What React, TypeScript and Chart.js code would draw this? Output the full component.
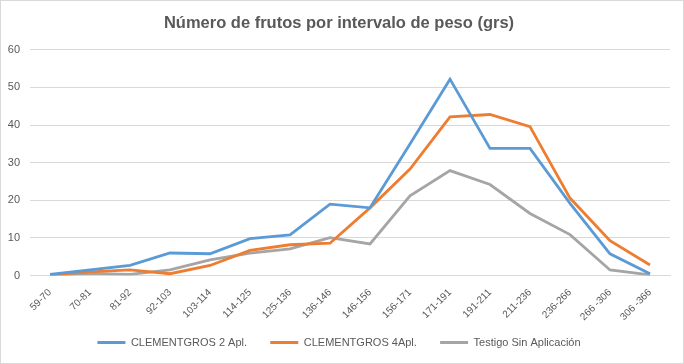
import React, { useEffect, useRef } from "react";
import { Chart, registerables } from "chart.js";

Chart.register(...registerables);

const categories = [
  "59-70", "70-81", "81-92", "92-103", "103-114", "114-125", "125-136", "136-146",
  "146-156", "156-171", "171-191", "191-211", "211-236", "236-266", "266 -306", "306 -366",
];

const clement2 = [0.3, 1.5, 2.7, 6.0, 5.8, 9.8, 10.8, 19.0, 18.0, 35.0, 52.2, 33.8, 33.8, 19.2, 5.8, 0.5];
const clement4 = [0.2, 1.0, 1.5, 0.5, 2.7, 6.7, 8.2, 8.6, 18.0, 28.3, 42.2, 42.8, 39.6, 20.6, 9.3, 2.8];
const testigo = [0.1, 0.6, 0.3, 1.5, 4.2, 6.0, 7.1, 10.1, 8.4, 21.2, 27.9, 24.2, 16.5, 10.9, 1.5, 0.2];

const seriesNames = ["CLEMENTGROS 2 Apl.", "CLEMENTGROS 4Apl.", "Testigo Sin Aplicación"];
const yTicks = [0, 10, 20, 30, 40, 50, 60];

const FONT = "'Liberation Sans', Arial, sans-serif";
const TXT = "#595959";

export default function App() {
  const ref = useRef<HTMLCanvasElement | null>(null);
  useEffect(() => {
    document.body.style.margin = "0";
    if (!ref.current) return;
    const colors = ["#5B9BD5", "#ED7D31", "#A5A5A5"];
    const data = [clement2, clement4, testigo];
    const chart = new Chart(ref.current, {
      type: "line",
      data: {
        labels: categories,
        datasets: data.map((d, i) => ({
          label: seriesNames[i],
          data: d,
          borderColor: colors[i],
          backgroundColor: colors[i],
          borderWidth: 2.8,
          pointRadius: 0,
          tension: 0,
          fill: false,
        })),
      },
      options: {
        animation: false,
        responsive: false,
        maintainAspectRatio: false,
        layout: { padding: { left: 7, right: 13, top: 0, bottom: 5 } },
        plugins: {
          title: {
            display: true,
            text: "Número de frutos por intervalo de peso (grs)",
            color: TXT,
            font: { family: FONT, size: 16.5, weight: "bold" },
            padding: { top: 13, bottom: 16 },
          },
          legend: {
            position: "bottom",
            labels: {
              color: TXT,
              font: { family: FONT, size: 11 },
              boxWidth: 28,
              boxHeight: 3,
              padding: 11,
              generateLabels: (ch: any) => {
                const items = Chart.defaults.plugins.legend.labels.generateLabels(ch);
                return items.map((it: any, i: number) => ({
                  ...it,
                  text: i < items.length - 1 ? it.text + "    " : it.text,
                  lineWidth: 0,
                }));
              },
            },
          },
          tooltip: { enabled: false },
        },
        scales: {
          x: {
            offset: true,
            grid: { display: false },
            border: { display: true, color: "#d9d9d9" },
            afterFit: (s: any) => {
              s.paddingLeft = 0;
              s.paddingRight = 0;
            },
            ticks: {
              color: TXT,
              font: { family: FONT, size: 10 },
              maxRotation: 45,
              minRotation: 45,
              autoSkip: false,
              padding: 3,
            },
          },
          y: {
            min: 0,
            max: 60,
            afterBuildTicks: (axis: any) => {
              axis.ticks = yTicks.map((v) => ({ value: v }));
            },
            afterFit: (s: any) => {
              s.width = 22;
            },
            grid: { color: "#d9d9d9", drawTicks: false },
            border: { display: false },
            ticks: {
              color: TXT,
              font: { family: FONT, size: 11 },
              padding: 10,
            },
          },
        },
      },
    });
    return () => chart.destroy();
  }, []);
  return (
    <div
      style={{
        position: "absolute",
        left: 0,
        top: 0,
        width: 684,
        height: 364,
        border: "1px solid #d9d9d9",
        boxSizing: "border-box",
        background: "#fff",
      }}
    >
      <canvas ref={ref} width={682} height={362} style={{ display: "block" }} />
    </div>
  );
}
